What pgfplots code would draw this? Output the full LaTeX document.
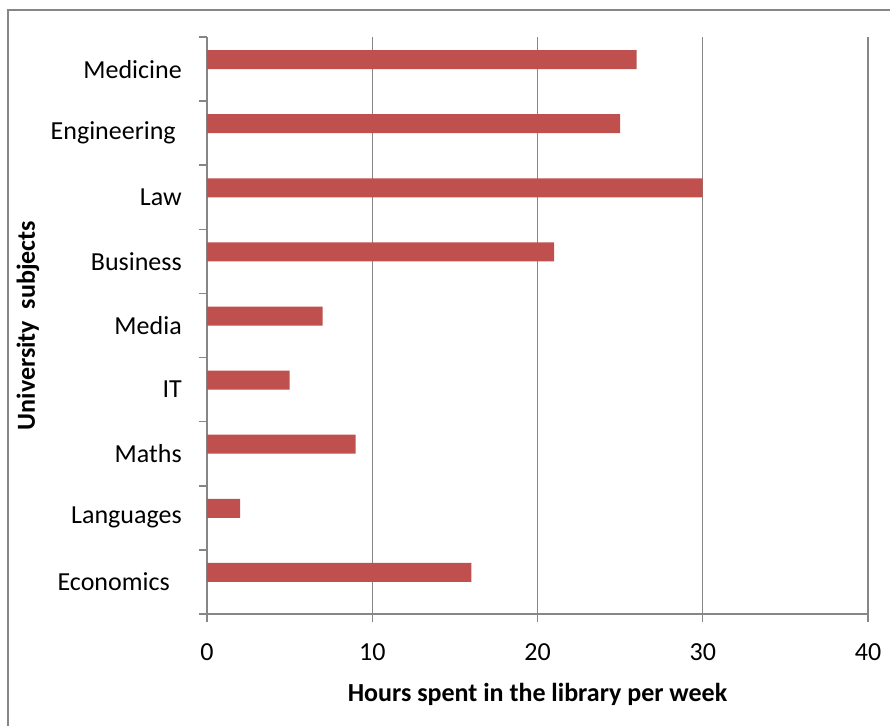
\documentclass[border=0pt]{standalone}
\usepackage{pgfplots}
\pgfplotsset{compat=1.18}
\usepackage{fontspec}
\setmainfont{Carlito}
\definecolor{axisgray}{HTML}{868686}
\definecolor{barred}{HTML}{C0504D}
\begin{document}
\begin{tikzpicture}
\useasboundingbox (0,0) rectangle (667.5pt,544.5pt);
\draw[axisgray, line width=1.1pt] (6pt,0) -- (6pt,537pt) -- (667.5pt,537pt);
\begin{axis}[
  at={(155.25pt,84pt)}, anchor=south west,
  scale only axis, width=495.75pt, height=432.75pt,
  xmin=0, xmax=40, ymin=-0.5, ymax=8.5,
  axis lines*=left,
  axis line style={axisgray, line width=1.1pt},
  xtick={0,10,20,30,40},
  xmajorgrids,
  grid style={axisgray, line width=1.1pt},
  tick align=outside,
  major tick length=6pt,
  tick style={axisgray, line width=1.1pt},
  ytick={-0.5,0.5,...,8.5},
  yticklabels={Economics\hspace*{9pt},Languages,Maths,IT,Media,Business,Law,Engineering\hspace*{4.5pt},Medicine,{}},
  yticklabel style={anchor=east, inner sep=0pt, xshift=-12.75pt, yshift=24.04pt},
  xticklabel style={anchor=north, inner sep=0pt, yshift=-15.75pt},
  /pgf/number format/assume math mode=true,
  ticklabel style={font=\fontsize{19.5}{23}\selectfont, text=black},
  xlabel={\textbf{Hours spent in the library per week}},
  ylabel={\textbf{University~~subjects}},
  xlabel style={at={(axis description cs:0.5,0)}, anchor=north, inner sep=0pt, yshift=-51.75pt, font=\fontsize{19.5}{23}\selectfont},
  ylabel style={at={(axis description cs:0,0.5)}, anchor=center, inner sep=0pt, yshift=134.25pt, font=\fontsize{19.5}{23}\selectfont},
  xbar, bar width=14.25pt, bar shift=7.125pt,
]
\addplot[fill=barred, draw=none] coordinates {
  (16,0) (2,1) (9,2) (5,3) (7,4) (21,5) (30,6) (25,7) (26,8)
};
\end{axis}
\end{tikzpicture}
\end{document}
